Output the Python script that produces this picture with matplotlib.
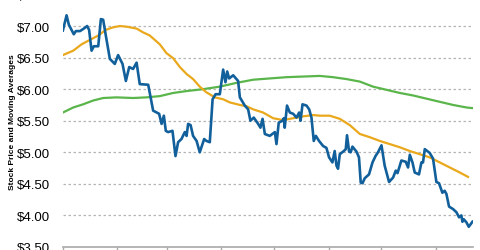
import matplotlib
matplotlib.use('Agg')
import matplotlib.pyplot as plt
from matplotlib.ticker import FuncFormatter

# days counted from 1 Jan, values in dollars
price_days = [0, 2.1, 3.4, 6.2, 7.4, 9.7, 11.9, 13.8, 14.9, 16.3, 17.6, 20.1, 21.6, 22.9,
              24.4, 26.7, 29.5, 31.4, 33.9, 35.8, 37.7, 39.9, 41.9, 43.7, 48.5, 51.3, 54.7,
              56.1, 57.4, 58.5, 59.8, 62.3, 64.0, 65.5, 67.4, 69.3, 70.3, 71.2, 72.6, 74.0,
              76.0, 77.8, 80.3, 81.6, 83.5, 85.1, 86.8, 89.2, 91.1, 92.4, 93.4, 94.5, 96.8,
              99.6, 100.6, 103.4, 105.3, 106.6, 108.5, 111.0, 112.3, 113.5, 114.8, 117.6,
              120.5, 121.4, 122.7, 124.8, 125.6, 126.1, 127.4, 129.0, 130.9, 132.8, 134.3,
              135.1, 136.2, 138.5, 140.0, 141.3, 142.6, 143.8, 145.6, 147.9, 149.8, 151.3,
              153.2, 154.5, 155.5, 156.4, 157.4, 159.7, 160.8, 161.5, 162.7, 163.6, 164.6,
              166.9, 168.3, 169.3, 170.3, 171.6, 174.0, 176.0, 177.7, 179.1, 181.1, 182.9,
              185.4, 187.7, 189.2, 190.2, 192.4, 194.9, 196.2, 197.2, 198.7, 200.0, 202.4,
              203.8, 204.7, 205.7, 208.5, 210.4, 212.3, 213.8, 215.7, 217.0, 218.0, 219.5,
              221.8, 223.7, 225.2, 226.5, 227.1, 227.8, 229.4, 230.7, 232.8]
price = [6.93, 7.17, 7.02, 6.87, 6.92, 6.92, 6.96, 7.00, 6.94, 6.61, 6.68, 6.68, 7.11, 7.10,
         6.85, 6.48, 6.40, 6.54, 6.40, 6.13, 6.35, 6.32, 6.42, 6.08, 6.07, 5.66, 5.61,
         5.45, 5.58, 5.34, 5.32, 5.34, 4.94, 5.16, 5.21, 5.32, 5.26, 5.45, 5.43, 5.26,
         5.18, 5.00, 5.21, 5.18, 5.16, 5.84, 5.92, 5.92, 6.31, 6.11, 6.28, 6.17, 6.22,
         6.13, 5.87, 5.74, 5.68, 5.50, 5.55, 5.45, 5.39, 5.53, 5.29, 5.26,
         5.32, 5.13, 5.47, 5.50, 5.54, 5.39, 5.74, 5.63, 5.61, 5.55, 5.63,
         5.50, 5.76, 5.74, 5.68, 5.55, 5.18, 5.26, 5.18, 5.10, 5.07, 4.92,
         4.84, 5.02, 4.79, 4.74, 4.97, 5.02, 5.05, 5.27, 5.01, 5.00, 5.09,
         5.01, 4.92, 4.52, 4.51, 4.59, 4.65, 4.84, 4.94, 5.00, 5.11, 4.79,
         4.53, 4.60, 4.71, 4.67, 4.87, 4.85, 4.76, 4.96, 4.84, 4.68, 4.65,
         4.84, 4.84, 5.05, 4.99, 4.90, 4.53, 4.51, 4.36, 4.39, 4.34, 4.14,
         4.10, 4.05, 3.97, 4.00, 3.90, 3.94, 3.89, 3.82, 3.90]

ma50_days = [0, 5.9, 10.6, 15.3, 20.1, 24.4, 28.6, 32.4, 36.2, 41.9, 45.6, 49.4, 55.1,
             58.9, 62.7, 66.5, 70.3, 74.0, 77.8, 81.6, 86.4, 91.1, 94.9, 100.6, 104.4,
             108.2, 113.8, 119.5, 125.2, 130.9, 136.6, 142.3, 146.0, 151.7, 157.4, 163.1,
             168.8, 174.4, 180.1, 185.8, 191.5, 197.2, 202.8, 208.5, 214.2, 219.9, 225.6,
             230.3]
ma50 = [6.54, 6.61, 6.71, 6.78, 6.85, 6.94, 6.98, 7.00, 6.99, 6.96, 6.90, 6.85, 6.71,
        6.57, 6.49, 6.35, 6.24, 6.16, 6.04, 5.95, 5.87, 5.84, 5.79, 5.75, 5.73,
        5.68, 5.63, 5.54, 5.51, 5.54, 5.57, 5.59, 5.58, 5.58, 5.53, 5.43,
        5.29, 5.24, 5.18, 5.13, 5.08, 5.02, 4.97, 4.92, 4.84, 4.76, 4.68,
        4.61]

ma200_days = [0, 5.9, 11.5, 17.2, 22.9, 30.5, 39.9, 47.5, 55.1, 62.7, 70.3, 79.7, 89.2,
              98.7, 108.2, 117.6, 127.1, 136.6, 146.0, 153.6, 161.2, 168.8, 176.3, 183.9,
              191.5, 199.1, 206.6, 214.2, 221.8, 229.4, 232.8]
ma200 = [5.63, 5.71, 5.76, 5.82, 5.86, 5.87, 5.86, 5.87, 5.89, 5.94, 5.97, 6.00, 6.04,
         6.10, 6.15, 6.17, 6.19, 6.20, 6.21, 6.19, 6.16, 6.12, 6.04, 5.99,
         5.94, 5.90, 5.85, 5.80, 5.75, 5.71, 5.70]

month_starts = [0, 31, 59, 90, 120, 151, 181, 212]
y_ticks = [3.5, 4.0, 4.5, 5.0, 5.5, 6.0, 6.5, 7.0, 7.5]

fig = plt.figure(figsize=(4.8, 2.51), dpi=100)
ax = fig.add_axes([0.131, 0.012, 0.854, 1.006])

ax.plot(ma200_days, ma200, color='#5ab54b', lw=1.6, zorder=3)
ax.plot(ma50_days, ma50, color='#eaa81c', lw=1.6, zorder=3)
ax.plot(price_days, price, color='#11609b', lw=1.9, zorder=4)

ax.set_xlim(0, 233)
ax.set_ylim(3.5, 7.5)
ax.set_yticks(y_ticks)
ax.yaxis.set_major_formatter(FuncFormatter(lambda v, p: f'${v:.2f}'))
ax.set_xticks(month_starts)
ax.set_xticklabels([])

ax.grid(axis='y', color='#b5b5b5', linestyle=(0, (2, 2)), lw=0.9)
ax.set_axisbelow(True)
for s in ['top', 'left', 'right']:
    ax.spines[s].set_visible(False)
ax.spines['bottom'].set_color('#a9a9a9')
ax.spines['bottom'].set_linewidth(1.2)
ax.tick_params(axis='y', length=0, pad=9, labelsize=9.5)
ax.tick_params(axis='x', length=6, color='#a9a9a9', width=1)
for lab in ax.get_yticklabels():
    lab.set_family('Liberation Sans')

fig.text(0.027, 0.514, 'Stock Price and Moving Averages', rotation=90,
         ha='center', va='center', fontsize=6, fontweight='bold',
         family='Liberation Sans')

fig.savefig('out.png', dpi=100)
